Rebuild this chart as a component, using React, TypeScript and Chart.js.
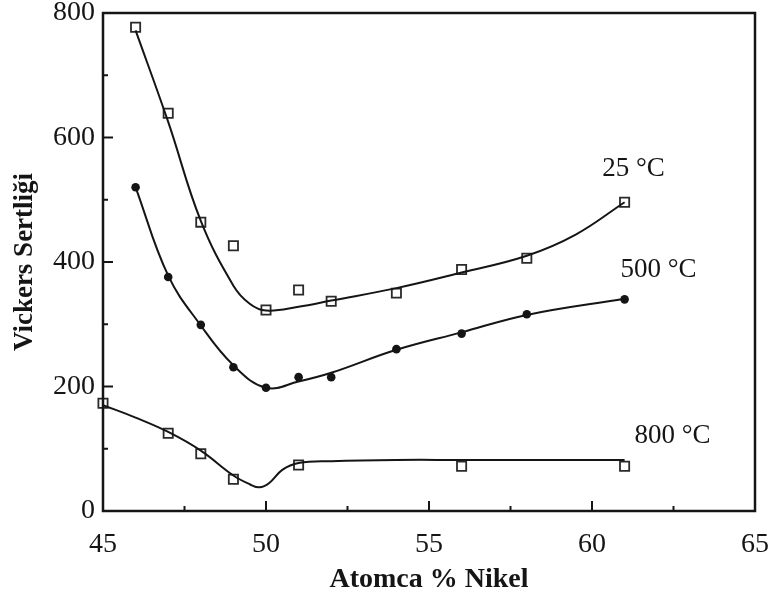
import React, { useEffect, useRef } from "react";
import { Chart, registerables } from "chart.js";

Chart.register(...registerables);

// ---- data ----
const nikel25 = [46, 47, 48, 49, 50, 51, 52, 54, 56, 58, 61];
const hard25 = [777, 639, 464, 426, 323, 355, 337, 350, 388, 406, 496];

const nikel500 = [46, 47, 48, 49, 50, 51, 52, 54, 56, 58, 61];
const hard500 = [520, 376, 299, 231, 198, 215, 215, 260, 285, 316, 340];

const nikel800 = [45, 47, 48, 49, 51, 56, 61];
const hard800 = [173, 125, 92, 51, 74, 72, 72];

// fitted curves (as drawn in the reference)
const curveX25 = [46, 47, 48, 49, 49.5, 50, 51, 52, 54, 56, 58, 59.5, 61];
const curveY25 = [772, 625, 466, 362, 333, 322, 328, 338, 358, 383, 410, 444, 496];

const curveX500 = [46, 47, 48, 49, 50, 51, 52, 54, 56, 58, 61];
const curveY500 = [520, 378, 298, 234, 198, 208, 222, 259, 287, 315, 341];

const curveX800 = [45, 46, 47, 48, 49, 49.5, 49.8, 50.1, 50.5, 51, 52, 54, 56, 61];
const curveY800 = [170, 150, 127, 97, 57, 43, 38, 45, 66, 77, 80, 82, 82, 82];

const seriesLabels = ["25 °C", "500 °C", "800 °C"];
const xMinorTicks = [47.5, 52.5, 57.5, 62.5];
const yMinorTicks = [100, 300, 500, 700];

const xTitle = "Atomca % Nikel";
const yTitle = "Vickers Sertliği";

// ---- styling ----
const FONT = '"Liberation Serif", "Times New Roman", serif';
const INK = "#151515";
const labelOffsets = [
  [9, -33],
  [34, -29],
  [48, -30],
];

const pts = (xs: number[], ys: number[]) => xs.map((x, i) => ({ x, y: ys[i] }));

const framePlugin = {
  id: "frame",
  afterDraw(chart: any) {
    const { ctx, chartArea: a, scales } = chart;
    const xs = scales.x;
    const ys = scales.y;
    ctx.save();
    ctx.strokeStyle = INK;
    ctx.lineWidth = 2.5;
    ctx.strokeRect(a.left, a.top, a.right - a.left, a.bottom - a.top);
    ctx.lineWidth = 2;
    const seg = (x1: number, y1: number, x2: number, y2: number) => {
      ctx.beginPath();
      ctx.moveTo(x1, y1);
      ctx.lineTo(x2, y2);
      ctx.stroke();
    };
    xs.ticks.forEach((t: any) => {
      const px = xs.getPixelForValue(t.value);
      seg(px, a.bottom, px, a.bottom - 10);
    });
    xMinorTicks.forEach((v) => {
      const px = xs.getPixelForValue(v);
      seg(px, a.bottom, px, a.bottom - 5);
    });
    ys.ticks.forEach((t: any) => {
      const py = ys.getPixelForValue(t.value);
      seg(a.left, py, a.left + 10, py);
    });
    yMinorTicks.forEach((v) => {
      const py = ys.getPixelForValue(v);
      seg(a.left, py, a.left + 5, py);
    });

    // series labels next to the last point of each curve
    const lasts = [
      [nikel25[nikel25.length - 1], hard25[hard25.length - 1]],
      [nikel500[nikel500.length - 1], hard500[hard500.length - 1]],
      [nikel800[nikel800.length - 1], hard800[hard800.length - 1]],
    ];
    ctx.fillStyle = INK;
    ctx.font = `27px ${FONT}`;
    ctx.textAlign = "center";
    ctx.textBaseline = "middle";
    seriesLabels.forEach((txt, i) => {
      const px = xs.getPixelForValue(lasts[i][0]) + labelOffsets[i][0];
      const py = ys.getPixelForValue(lasts[i][1]) + labelOffsets[i][1];
      ctx.fillText(txt, px, py);
    });
    ctx.restore();
  },
};

export default function App() {
  const ref = useRef<HTMLCanvasElement | null>(null);

  useEffect(() => {
    if (!ref.current) return;
    Chart.defaults.font.family = FONT;
    Chart.defaults.color = INK;

    const curve = (xs: number[], ys: number[]) => ({
      data: pts(xs, ys),
      showLine: true,
      borderColor: INK,
      borderWidth: 2,
      pointRadius: 0,
      tension: 0.4,
      fill: false,
    });
    const squares = (xs: number[], ys: number[]) => ({
      data: pts(xs, ys),
      showLine: false,
      pointStyle: "rect" as const,
      pointRadius: 6.5,
      pointBorderWidth: 1.8,
      pointBorderColor: "#2a2a2a",
      pointBackgroundColor: "#ffffff",
      clip: false as any,
    });
    const dots = (xs: number[], ys: number[]) => ({
      data: pts(xs, ys),
      showLine: false,
      pointStyle: "circle" as const,
      pointRadius: 4.3,
      pointBorderWidth: 0,
      pointBackgroundColor: INK,
      pointBorderColor: INK,
      clip: false as any,
    });

    const chart = new Chart(ref.current, {
      type: "scatter",
      data: {
        datasets: [
          curve(curveX25, curveY25),
          curve(curveX500, curveY500),
          curve(curveX800, curveY800),
          squares(nikel25, hard25),
          dots(nikel500, hard500),
          squares(nikel800, hard800),
        ] as any,
      },
      options: {
        responsive: false,
        animation: false,
        devicePixelRatio: 1,
        layout: { padding: { top: 13, right: 15, left: 0, bottom: 0 } },
        plugins: { legend: { display: false }, tooltip: { enabled: false } },
        scales: {
          x: {
            type: "linear",
            min: 45,
            max: 65,
            grid: { display: false, drawTicks: false },
            border: { display: false },
            ticks: {
              stepSize: 5,
              padding: 17,
              color: INK,
              font: { size: 28, family: FONT },
              maxRotation: 0,
            },
            title: {
              display: true,
              text: xTitle,
              color: INK,
              font: { size: 28, weight: "bold", family: FONT },
              padding: { top: 0, bottom: 4 },
            },
            afterFit(scale: any) {
              scale.height = 90;
              scale.paddingLeft = 0;
              scale.paddingRight = 0;
            },
          },
          y: {
            type: "linear",
            min: 0,
            max: 800,
            grid: { display: false, drawTicks: false },
            border: { display: false },
            ticks: {
              stepSize: 200,
              padding: 8,
              color: INK,
              font: { size: 28, family: FONT },
            },
            title: {
              display: true,
              text: yTitle,
              color: INK,
              font: { size: 27, weight: "bold", family: FONT },
              padding: { top: 9, bottom: 0 },
            },
            afterFit(scale: any) {
              scale.width = 103;
              scale.paddingTop = 0;
              scale.paddingBottom = 0;
            },
          },
        },
      },
      plugins: [framePlugin],
    });
    return () => chart.destroy();
  }, []);

  return (
    <div style={{ position: "fixed", left: 0, top: 0, width: 770, height: 601, background: "#fff" }}>
      <canvas ref={ref} width={770} height={601} />
    </div>
  );
}
